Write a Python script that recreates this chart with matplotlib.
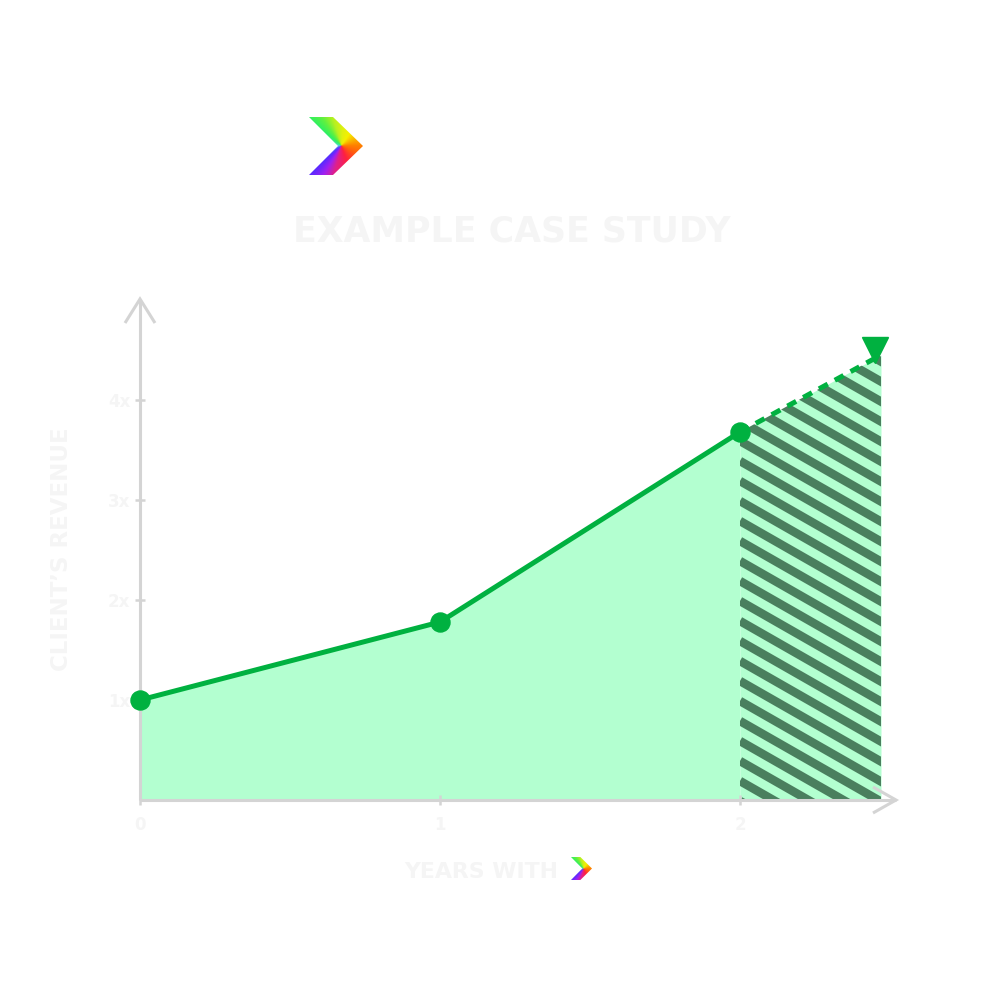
import numpy as np
import matplotlib
matplotlib.use("Agg")
import matplotlib.pyplot as plt
from matplotlib.patches import Polygon
from matplotlib.lines import Line2D
from matplotlib.collections import LineCollection
import matplotlib.transforms as mtrans

# ---------------- data ----------------
years = [0, 1, 2]
revenue = [1.0, 1.78, 3.68]
proj_years = [2, 2.47]
proj_revenue = [3.68, 4.45]
y_ticks = [1, 2, 3, 4]
y_tick_labels = ["1x", "2x", "3x", "4x"]
x_ticks = [0, 1, 2]
x_tick_labels = ["0", "1", "2"]
title = "EXAMPLE CASE STUDY"
y_label = "CLIENT\u2019S REVENUE"
x_label = "YEARS WITH"

# ---------------- style ----------------
GREEN = "#00b140"
LIGHT = "#b3ffd0"
STRIPE = "#4a7f5e"
AXIS = "#d4d4d4"
TXT = "#f5f5f5"

W, H = 1000, 1001
fig = plt.figure(figsize=(10, 10.01), dpi=100)
fig.patch.set_facecolor("white")


def fx(px):
    return px / W


def fy(py):
    return 1 - py / H


X_MAX, Y_MAX = 2.52, 5.0
ax = fig.add_axes([fx(140), fy(800), 300 * X_MAX / W, 100 * Y_MAX / H])
ax.set_xlim(0, X_MAX)
ax.set_ylim(0, Y_MAX)
ax.patch.set_alpha(0)
for s in ["top", "right"]:
    ax.spines[s].set_visible(False)
for s in ["left", "bottom"]:
    ax.spines[s].set_color(AXIS)
    ax.spines[s].set_linewidth(2.2)
    ax.spines[s].set_capstyle("butt")

# main area
ax.fill_between(years, 0, revenue, color=LIGHT, lw=0, zorder=1)
# projected hatched area
hatch_poly = ax.fill_between(proj_years, 0, proj_revenue, color=LIGHT, lw=0, zorder=1)
slope = 1.714
segs = []
for c in np.arange(-0.01, 5.6, 0.2):
    segs.append([(proj_years[0], c), (proj_years[0] + 0.7, c - slope * 0.7)])
lc = LineCollection(segs, colors=STRIPE, linewidths=6.2, capstyle="butt", zorder=1.5)
ax.add_collection(lc)
lc.set_clip_path(hatch_poly.get_paths()[0], ax.transData)

# lines
ax.plot(years, revenue, color=GREEN, lw=3.6, zorder=3, solid_capstyle="round",
        solid_joinstyle="round", clip_on=False)
ax.plot(proj_years, proj_revenue, color=GREEN, lw=3.6, dashes=(2, 1.6),
        dash_capstyle="butt", zorder=3, clip_on=False)
ax.plot(years, revenue, linestyle="none", marker="o", ms=13.7, color=GREEN,
        zorder=4, clip_on=False)
off = mtrans.ScaledTranslation(-6 / 100, 5 / 100, fig.dpi_scale_trans)
ax.plot([proj_years[-1]], [proj_revenue[-1]], linestyle="none", marker="v", ms=19,
        color=GREEN, zorder=4, clip_on=False, transform=ax.transData + off)

# ticks
ax.set_yticks(y_ticks)
ax.set_yticklabels(y_tick_labels)
ax.set_xticks(x_ticks)
ax.set_xticklabels(x_tick_labels)
ax.tick_params(axis="y", direction="inout", length=7.5, width=1.8, color=AXIS,
               pad=3.2, labelsize=12, labelcolor=TXT)
ax.tick_params(axis="x", direction="inout", length=7.5, width=1.8, color=AXIS,
               pad=8.0, labelsize=12, labelcolor=TXT)
for lbl in ax.get_yticklabels() + ax.get_xticklabels():
    lbl.set_fontweight("bold")

# axis arrow chevrons
fig.add_artist(Line2D([fx(125), fx(140), fx(155)], [fy(323), fy(299), fy(323)],
                      transform=fig.transFigure, color=AXIS, lw=2.2,
                      solid_joinstyle="miter", solid_capstyle="butt"))
fig.add_artist(Line2D([fx(873), fx(896), fx(873)], [fy(787), fy(800), fy(813)],
                      transform=fig.transFigure, color=AXIS, lw=2.2,
                      solid_joinstyle="miter", solid_capstyle="butt"))

# texts
fig.text(fx(511.5), fy(241), title, ha="center", va="baseline", fontsize=25,
         fontweight="bold", color=TXT)
fig.text(fx(68), fy(549), y_label, rotation=90, rotation_mode="anchor",
         ha="center", va="baseline", fontsize=16.5, fontweight="bold", color=TXT)
fig.text(fx(481.5), fy(878), x_label, ha="center", va="baseline", fontsize=15.8,
         fontweight="bold", color=TXT)

# gradient chevron logo
LOGO_SHAPE = [(0, 1), (24 / 54, 1), (1, 0.5), (24 / 54, 0), (0, 0), (29 / 54, 0.5)]
anch_deg = [0, 55, 85, 107, 125, 140, 180, 222, 238, 255, 290, 330, 360]
anch_col = ["#ff8000", "#f5f000", "#e0f010", "#b8f020", "#60f040", "#30f060",
            "#60d8e0", "#5a2aff", "#a020f0", "#e0208a", "#ff2040", "#ff5a10",
            "#ff8000"]
anch_rgb = np.array([matplotlib.colors.to_rgb(c) for c in anch_col])
n = 120
gx, gy = np.meshgrid(np.linspace(0, 1, n), np.linspace(0, 1, n))
ang = np.degrees(np.arctan2((gy - 0.5) * 58, (gx - 0.6) * 54)) % 360
grad = np.stack([np.interp(ang, anch_deg, anch_rgb[:, k]) for k in range(3)], axis=-1)


def draw_logo(x0, y0, x1, y1):
    lax = fig.add_axes([fx(x0), fy(y1), (x1 - x0) / W, (y1 - y0) / H])
    lax.set_xlim(0, 1)
    lax.set_ylim(0, 1)
    lax.axis("off")
    im = lax.imshow(grad, extent=(0, 1, 0, 1), origin="lower",
                    interpolation="bilinear", aspect="auto")
    poly = Polygon(LOGO_SHAPE, closed=True, transform=lax.transData,
                   facecolor="none", edgecolor="none")
    lax.add_patch(poly)
    im.set_clip_path(poly)


draw_logo(309, 117, 363, 175)
draw_logo(571, 857, 592, 880)

fig.savefig("out.png", dpi=100, facecolor="white")
